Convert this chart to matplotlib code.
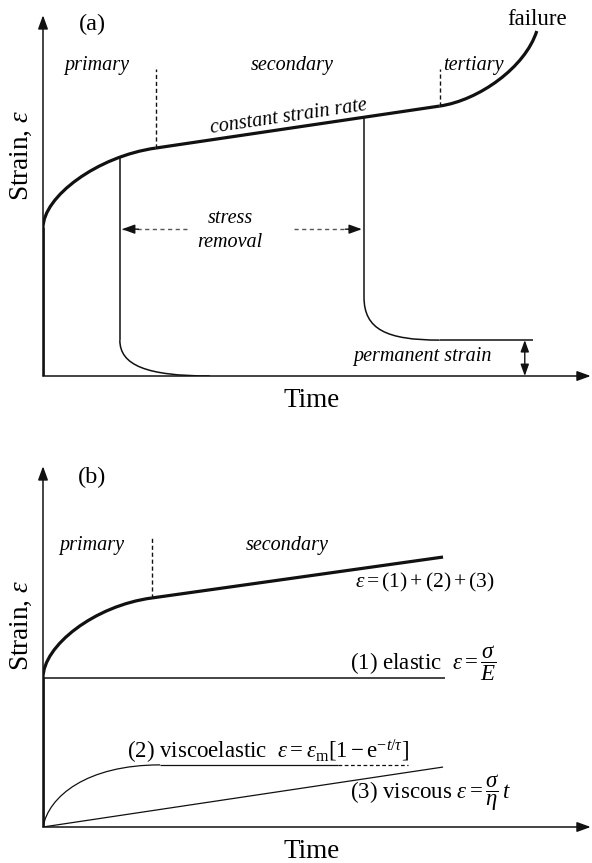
import numpy as np
import matplotlib
matplotlib.use("Agg")
import matplotlib.pyplot as plt
from matplotlib.path import Path
from matplotlib.patches import PathPatch, FancyArrowPatch

plt.rcParams["font.family"] = ["Liberation Serif", "DejaVu Serif"]
plt.rcParams["mathtext.fontset"] = "custom"
plt.rcParams["mathtext.rm"] = "Liberation Serif"
plt.rcParams["mathtext.it"] = "Liberation Serif:italic"
plt.rcParams["mathtext.bf"] = "Liberation Serif:bold"

# ---- (a) creep curve: key points (time, strain) in schematic units 0..100 ----
creep_a_instant = [(0.0, 0.0), (0.0, 41.2)]
creep_a_primary = [(0.0, 41.2), (0.0, 50.0), (10.0, 61.2), (20.7, 63.5)]
creep_a_secondary = [(20.7, 63.5), (72.8, 75.2)]
creep_a_tertiary = [(72.8, 75.2), (80.0, 76.8), (88.5, 86.0), (90.6, 96.1)]

# recovery after stress removal during primary stage
recovery1_drop = [(14.1, 60.6), (14.1, 10.0)]
recovery1_tail = [(14.1, 10.0), (14.1, 3.0), (19.0, 0.0), (30.6, 0.0)]
# recovery after stress removal during secondary stage
recovery2_drop = [(58.9, 72.1), (58.9, 22.0)]
recovery2_tail = [(58.9, 22.0), (58.9, 13.0), (63.0, 10.0), (72.8, 10.0)]
permanent_strain = 10.0
permanent_end = 89.9

stage_bounds_a = [20.7, 72.8]
stage_tops_a = [85.5, 85.5]
stage_bases_a = [63.5, 75.2]

removal_level = 40.9
removal_left = (26.4, 14.5)
removal_right = (46.1, 58.5)

# ---- (b) decomposition of the creep curve ----
total_instant = [(0.0, 0.0), (0.0, 41.5)]
total_primary = [(0.0, 41.5), (0.0, 50.5), (9.5, 61.7), (20.0, 63.8)]
total_secondary = [(20.0, 63.8), (73.4, 75.2)]
stage_bound_b = 20.0
stage_top_b = 81.1

elastic_level = 41.5
elastic_end = 73.8

visco_curve = [(0.0, 0.0), (1.0, 8.5), (8.0, 17.3), (21.5, 17.3)]
visco_flat_end = 54.1
visco_dash_end = 67.0

viscous_line = [(0.0, 0.0), (73.4, 16.7)]

BLACK = "#111111"
THICK = 2.3
THIN = 1.1
LABEL = 14.5      # italic stage labels
AXLAB = 19.5      # axis titles
EQ = 16.5         # equation labels


def bezier(ax, pts, lw, **kw):
    verts = list(pts)
    codes = [Path.MOVETO] + [Path.CURVE4] * 3
    ax.add_patch(PathPatch(Path(verts, codes), fill=False, lw=lw,
                           edgecolor=BLACK, capstyle="butt", **kw))


def segment(ax, pts, lw, **kw):
    xs, ys = zip(*pts)
    ax.plot(xs, ys, color=BLACK, lw=lw, solid_capstyle="butt", **kw)


def axis_arrows(ax):
    style = "-|>,head_length=0.55,head_width=0.2"
    for end in [(100.5, 0), (0, 100.5)]:
        ax.add_patch(FancyArrowPatch((0, 0), end, arrowstyle=style,
                                     mutation_scale=15, lw=1.1,
                                     color=BLACK, shrinkA=0, shrinkB=0,
                                     clip_on=False))


def slope_angle(ax, p0, p1):
    a = ax.transData.transform(p0)
    b = ax.transData.transform(p1)
    return np.degrees(np.arctan2(b[1] - a[1], b[0] - a[0]))


W, H = 592, 863
fig = plt.figure(figsize=(W / 100, H / 100), dpi=100)

ax_a = fig.add_axes([43 / W, (H - 376) / H, 545 / W, 359 / H])
ax_b = fig.add_axes([43 / W, (H - 827) / H, 545 / W, 359 / H])
for ax, ylab_pos in ((ax_a, 0.615), (ax_b, 0.56)):
    ax.set_xlim(0, 100)
    ax.set_ylim(0, 100)
    ax.axis("off")
    axis_arrows(ax)
    ax.text(-0.04, ylab_pos, r"Strain, $\varepsilon$", transform=ax.transAxes,
            rotation=90, ha="center", va="center", fontsize=AXLAB)
    ax.text(0.492, -0.067, "Time", transform=ax.transAxes,
            ha="center", va="center", fontsize=AXLAB)

# ---------------- panel (a) ----------------
ax = ax_a
segment(ax, creep_a_instant, THICK + 0.4)
bezier(ax, creep_a_primary, THICK)
segment(ax, creep_a_secondary, THICK)
bezier(ax, creep_a_tertiary, THICK)

segment(ax, recovery1_drop, THIN)
bezier(ax, recovery1_tail, THIN)
segment(ax, recovery2_drop, THIN)
bezier(ax, recovery2_tail, THIN)
segment(ax, [(recovery2_tail[-1][0], permanent_strain),
             (permanent_end, permanent_strain)], THIN)

for xb, yb, yt in zip(stage_bounds_a, stage_bases_a, stage_tops_a):
    ax.plot([xb, xb], [yb, yt], color=BLACK, lw=1.0, ls=(0, (3, 2)))

# stress removal arrows
grey = "#555555"
ax.plot(removal_left, [removal_level] * 2, color=grey, lw=1.0, ls=(0, (3, 2.5)))
ax.plot(removal_right, [removal_level] * 2, color=grey, lw=1.0, ls=(0, (3, 2.5)))
head = "-|>,head_length=0.55,head_width=0.2"
ax.annotate("", xy=(removal_left[1], removal_level),
            xytext=(removal_left[1] + 3, removal_level),
            arrowprops=dict(arrowstyle=head, color=BLACK, lw=1.0,
                            shrinkA=0, shrinkB=0, mutation_scale=14))
ax.annotate("", xy=(removal_right[1], removal_level),
            xytext=(removal_right[1] - 3, removal_level),
            arrowprops=dict(arrowstyle=head, color=BLACK, lw=1.0,
                            shrinkA=0, shrinkB=0, mutation_scale=14))
ax.text(34.3, 44.0, "stress", style="italic", fontsize=LABEL,
        ha="center", va="center")
ax.text(34.3, 37.3, "removal", style="italic", fontsize=LABEL,
        ha="center", va="center")

# permanent strain marker
ax.annotate("", xy=(88.4, 0), xytext=(88.4, permanent_strain),
            arrowprops=dict(arrowstyle="<|-|>,head_length=0.5,head_width=0.18",
                            color=BLACK, lw=1.0, shrinkA=0, shrinkB=0,
                            mutation_scale=14))
ax.text(69.7, 5.3, "permanent strain", style="italic", fontsize=LABEL,
        ha="center", va="center")

ax.text(9.0, 97.8, "(a)", fontsize=17.5, ha="center", va="center")
ax.text(9.9, 86.6, "primary", style="italic", fontsize=LABEL,
        ha="center", va="center")
ax.text(45.7, 86.6, "secondary", style="italic", fontsize=LABEL,
        ha="center", va="center")
ax.text(79.0, 86.6, "tertiary", style="italic", fontsize=LABEL,
        ha="center", va="center")
ax.text(90.6, 99.4, "failure", fontsize=16.5, ha="center", va="center")

ang = slope_angle(ax, creep_a_secondary[0], creep_a_secondary[1])
xm = 45.3
ym = creep_a_secondary[0][1] + (xm - creep_a_secondary[0][0]) * (
    (creep_a_secondary[1][1] - creep_a_secondary[0][1])
    / (creep_a_secondary[1][0] - creep_a_secondary[0][0]))
ax.text(xm, ym + 0.6, "constant strain rate", style="italic", fontsize=LABEL,
        rotation=ang, rotation_mode="anchor", ha="center", va="bottom")

# ---------------- panel (b) ----------------
ax = ax_b
segment(ax, total_instant, THICK + 0.4)
bezier(ax, total_primary, THICK)
segment(ax, total_secondary, THICK)
ax.plot([stage_bound_b] * 2, [total_primary[-1][1], stage_top_b],
        color=BLACK, lw=1.0, ls=(0, (3, 2)))

segment(ax, [(0, elastic_level), (elastic_end, elastic_level)], THIN)
bezier(ax, visco_curve, 0.9)
segment(ax, [visco_curve[-1], (visco_flat_end, visco_curve[-1][1])], 0.9)
ax.plot([visco_flat_end, visco_dash_end], [visco_curve[-1][1]] * 2,
        color=BLACK, lw=0.9, ls=(0, (3, 2)))
segment(ax, viscous_line, 0.9)

ax.text(9.0, 97.5, "(b)", fontsize=17.5, ha="center", va="center")
ax.text(9.0, 78.3, "primary", style="italic", fontsize=LABEL,
        ha="center", va="center")
ax.text(44.8, 78.3, "secondary", style="italic", fontsize=LABEL,
        ha="center", va="center")
ax.text(70.1, 68.2, r"$\varepsilon = (1) + (2) + (3)$", fontsize=15.5,
        ha="center", va="center")
ax.text(56.3, 45.5, r"(1) elastic  $\varepsilon = \dfrac{\sigma}{E}$",
        fontsize=EQ, ha="left", va="center")
ax.text(15.4, 20.8,
        r"(2) viscoelastic  $\varepsilon = \varepsilon_{\rm m}[1 - {\rm e}^{-t/\tau}]$",
        fontsize=EQ, ha="left", va="center")
ax.text(56.3, 9.5, r"(3) viscous $\varepsilon = \dfrac{\sigma}{\eta}\,t$",
        fontsize=EQ, ha="left", va="center")

fig.savefig("out.png", dpi=100)
